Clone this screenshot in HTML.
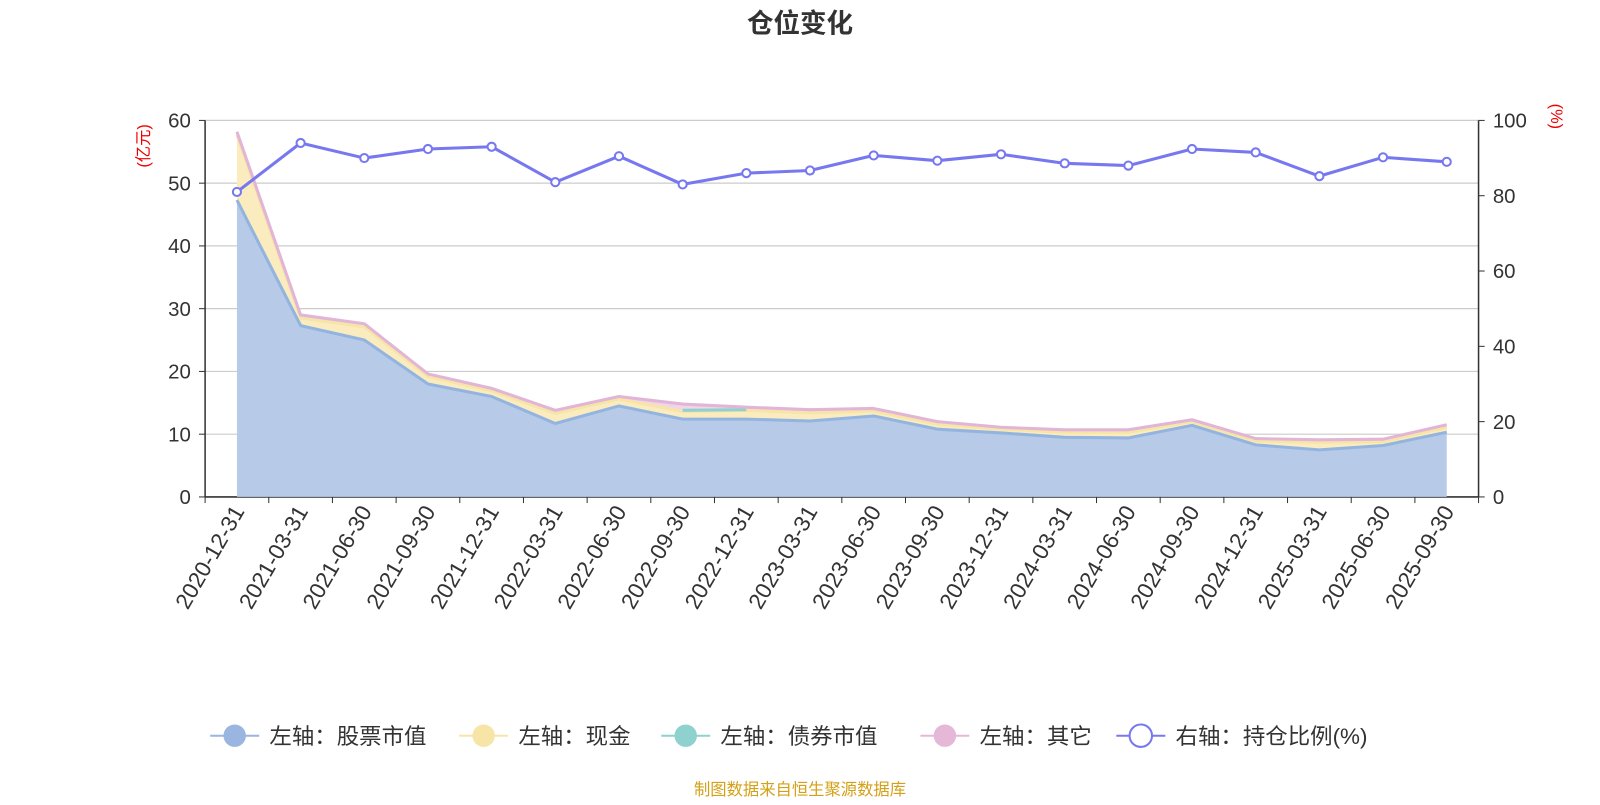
<!DOCTYPE html>
<html><head><meta charset="utf-8"><style>
body{margin:0;background:#fff;font-family:"Liberation Sans","Noto Sans CJK SC",sans-serif}
svg text{font-family:"Liberation Sans","Noto Sans CJK SC",sans-serif}
</style></head><body>
<svg id="c" width="1600" height="800">
<g transform="scale(1.0204)">
<text x="784" y="32" text-anchor="middle" font-size="26" font-weight="bold" fill="#333">仓位变化</text>
<text x="784" y="779" text-anchor="middle" font-size="16" fill="#d4a017">制图数据来自恒生聚源数据库</text>
<text transform="translate(146,143) rotate(-90)" text-anchor="middle" font-size="16" fill="#e00">(亿元)</text>
<text transform="translate(1520,114) rotate(90)" text-anchor="middle" font-size="16" fill="#e00">(%)</text>
<g id="grid"></g><g id="areas"></g><g id="lines"></g><g id="axes"></g><g id="legend"></g>
</g>
</svg>
<script>
const categories=["2020-12-31","2021-03-31","2021-06-30","2021-09-30","2021-12-31","2022-03-31","2022-06-30","2022-09-30","2022-12-31","2023-03-31","2023-06-30","2023-09-30","2023-12-31","2024-03-31","2024-06-30","2024-09-30","2024-12-31","2025-03-31","2025-06-30","2025-09-30"];
const stockValues=[47.3,27.3,25,18,16,11.7,14.5,12.4,12.4,12.1,12.9,10.8,10.2,9.5,9.4,11.4,8.3,7.5,8.2,10.3];
const cashValues=[10.4,1.2,2.1,1.2,0.9,1.6,1.1,1.2,1.4,1.3,0.8,0.8,0.6,0.8,0.9,0.6,0.6,1.2,0.6,0.8];
const bondValues=[0,0,0,0,0,0,0,0.2,0.1,0,0,0,0,0,0,0,0,0,0,0];
const otherValues=[0.5,0.5,0.5,0.4,0.4,0.5,0.4,1,0.4,0.5,0.4,0.4,0.3,0.4,0.4,0.3,0.4,0.4,0.4,0.4];
const ratioValues=[81,94,90,92.4,93,83.6,90.5,83,86,86.7,90.7,89.3,91,88.6,88,92.4,91.5,85.2,90.2,89];
const leftTicks=[0,10,20,30,40,50,60];
const rightTicks=[0,20,40,60,80,100];
const NS="http://www.w3.org/2000/svg";
const L=201,R=1449,T=118,B=487,band=(R-L)/categories.length;
const x=i=>L+band*(i+0.5);
const yl=v=>B-(v/60)*(B-T);
const yr=v=>B-(v/100)*(B-T);
function mk(tag,attrs,parent){const e=document.createElementNS(NS,tag);for(const k in attrs)e.setAttribute(k,attrs[k]);document.getElementById(parent).appendChild(e);return e;}
leftTicks.forEach(v=>{
 const g=mk('line',{x1:L,x2:R,y1:yl(v),y2:yl(v),stroke:v?'#ccc':'#333','stroke-width':v?1.2:1.5},'grid');
 
 
 mk('line',{x1:L-6,x2:L,y1:yl(v),y2:yl(v),stroke:'#333'},'axes');
 const t=mk('text',{x:L-14,y:yl(v)+7,'text-anchor':'end','font-size':20,fill:'#333'},'axes');t.textContent=v;
 
 
});
rightTicks.forEach(v=>{
 mk('line',{x1:R,x2:R+6,y1:yr(v),y2:yr(v),stroke:'#333'},'axes');
 const t=mk('text',{x:R+14,y:yr(v)+7,'font-size':20,fill:'#333'},'axes');t.textContent=v;
 
 
});
mk('line',{x1:L,x2:L,y1:T,y2:B,stroke:'#333','stroke-width':1.5},'axes');
mk('line',{x1:R,x2:R,y1:T,y2:B,stroke:'#333','stroke-width':1.5},'axes');
for(let i=0;i<=categories.length;i++)mk('line',{x1:L+band*i,x2:L+band*i,y1:B,y2:B+6,stroke:'#333'},'axes');
categories.forEach((c,i)=>{
 const t=mk('text',{transform:`translate(${x(i)+8},${B+14}) rotate(-60)`,'text-anchor':'end','font-size':22,fill:'#333'},'axes');t.textContent=c;
 
 
});
const s1=stockValues,s2=s1.map((v,i)=>v+cashValues[i]),s3=s2.map((v,i)=>v+bondValues[i]),s4=s3.map((v,i)=>v+otherValues[i]);
function area(top,bot,fill,name){const p=top.map((v,i)=>`${x(i)},${yl(v)}`).concat(bot.map((v,i)=>`${x(i)},${yl(v)}`).reverse());
 const e=mk('polygon',{points:p.join(' '),fill:fill},'areas');
 
 }
function line(vals,stroke,name,w,fy){const e=mk('polyline',{points:vals.map((v,i)=>`${x(i)},${fy(v)}`).join(' '),fill:'none',stroke:stroke,'stroke-width':w,'stroke-linejoin':'round'},'lines');
 
 }
area(s1,s1.map(()=>0),'#b7cbe8','stock-area');
area(s2,s1,'#faecbf','cash-area');
area(s3,s2,'#9fdad7','bond-area');
area(s4,s3,'#f1d6e9','other-area');
line(s1,'#94b4e0','stock-line',3,yl);
line(s2,'#f7e5a8','cash-line',3,yl);
const bi=bondValues.map((v,i)=>v>0?i:-1).filter(i=>i>=0);
if(bi.length>1){const e=mk('polyline',{points:bi.map(i=>`${x(i)},${yl(s3[i])}`).join(' '),fill:'none',stroke:'#8fd1cf','stroke-width':3},'lines');}
line(s4,'#e2b5d6','other-line',3,yl);
line(ratioValues,'#7778f0','ratio-line',3,yr);
ratioValues.forEach((v,i)=>{const c=mk('circle',{cx:x(i),cy:yr(v),r:4,fill:'#fff',stroke:'#7778f0','stroke-width':2},'lines');
 
 });
const leg=[["左轴：股票市值","#9ab6e0",true],["左轴：现金","#f7e5a8",true],["左轴：债券市值","#8fd1cf",true],["左轴：其它","#e6b8d8",true],["右轴：持仓比例(%)","#7778f0",false]];
const lx=[206,450,648,902,1094];
leg.forEach((l,i)=>{
 const g=mk('g',{},'legend');
 
 
 const X=lx[i],Y=721;
 const ln=document.createElementNS(NS,'line');
 ln.setAttribute('x1',X);ln.setAttribute('x2',X+48);ln.setAttribute('y1',Y);ln.setAttribute('y2',Y);ln.setAttribute('stroke',l[1]);ln.setAttribute('stroke-width',2);g.appendChild(ln);
 const c=document.createElementNS(NS,'circle');c.setAttribute('cx',X+24);c.setAttribute('cy',Y);c.setAttribute('r',11);
 c.setAttribute('fill',l[2]?l[1]:'#fff');c.setAttribute('stroke',l[1]);c.setAttribute('stroke-width',l[2]?0:2);g.appendChild(c);
 const t=document.createElementNS(NS,'text');t.setAttribute('x',X+58);t.setAttribute('y',Y+8);t.setAttribute('font-size',22);t.setAttribute('fill','#333');t.textContent=l[0];g.appendChild(t);
});
</script>
</body></html>
